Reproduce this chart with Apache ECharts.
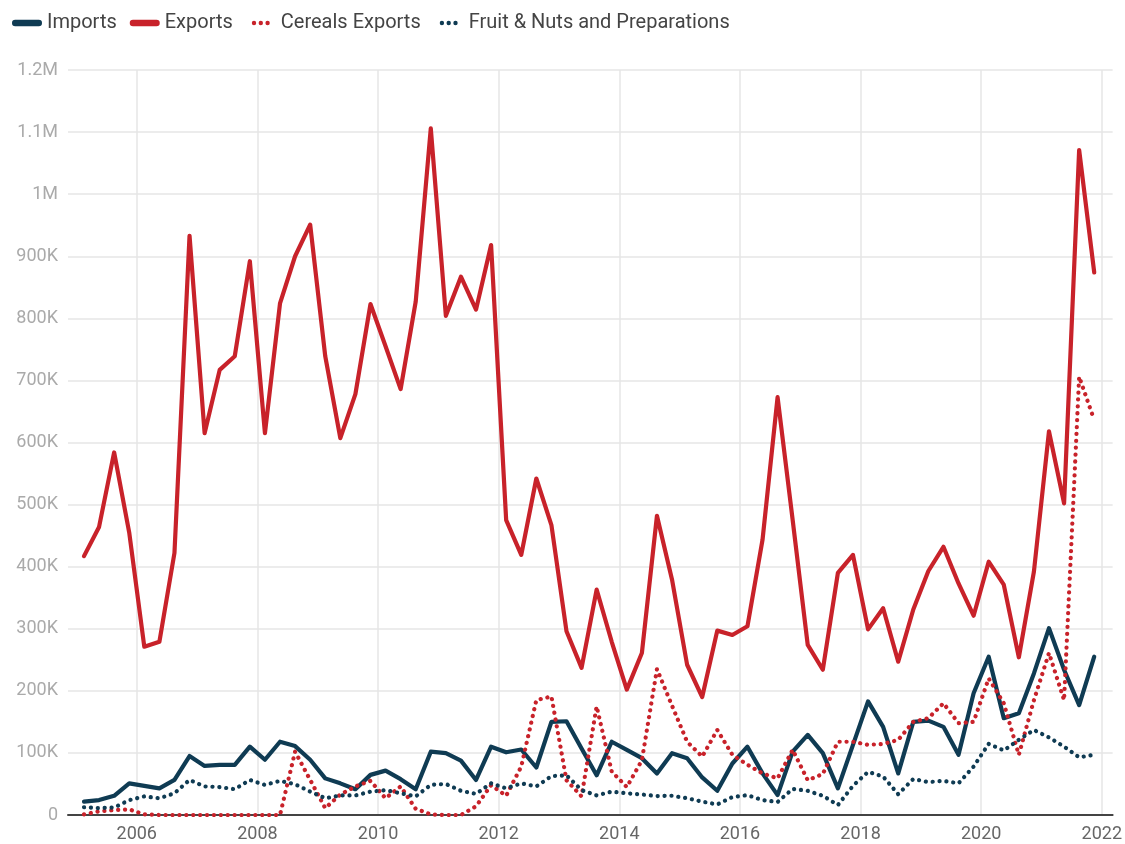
<!DOCTYPE html>
<html><head><meta charset="utf-8">
<script src="https://cdn.jsdelivr.net/npm/echarts@6/dist/echarts.min.js"></script>
<style>html,body{margin:0;padding:0;background:#fff}#c{width:1125px;height:844px}</style>
</head><body><div id="c"></div>
<script>
// Quarterly periods
const quarters = [
 '2005Q1','2005Q2','2005Q3','2005Q4','2006Q1','2006Q2','2006Q3','2006Q4',
 '2007Q1','2007Q2','2007Q3','2007Q4','2008Q1','2008Q2','2008Q3','2008Q4',
 '2009Q1','2009Q2','2009Q3','2009Q4','2010Q1','2010Q2','2010Q3','2010Q4',
 '2011Q1','2011Q2','2011Q3','2011Q4','2012Q1','2012Q2','2012Q3','2012Q4',
 '2013Q1','2013Q2','2013Q3','2013Q4','2014Q1','2014Q2','2014Q3','2014Q4',
 '2015Q1','2015Q2','2015Q3','2015Q4','2016Q1','2016Q2','2016Q3','2016Q4',
 '2017Q1','2017Q2','2017Q3','2017Q4','2018Q1','2018Q2','2018Q3','2018Q4',
 '2019Q1','2019Q2','2019Q3','2019Q4','2020Q1','2020Q2','2020Q3','2020Q4',
 '2021Q1','2021Q2','2021Q3','2021Q4'
];
const imports = [
 21600,24000,31000,51000,47000,43000,56500,95000,
 79000,80700,80700,110000,89000,118000,111000,89000,
 59000,51000,41500,64600,71500,57700,41500,102000,
 99600,87600,56500,110000,101000,105500,76500,150000,
 151000,107000,64000,118000,105000,91500,67000,99600,
 91500,60500,39000,83000,110000,67000,32000,102000,
 129000,99600,43000,113000,183000,142000,67000,150000,
 152000,142000,97000,196000,255000,156000,164000,228000,
 301000,234000,177000,255000
];
const exportsTotal = [
 417000,464000,584000,455000,271000,279000,422000,933000,
 615000,717000,739000,892000,615000,824000,900000,951000,
 739000,607000,678000,823000,755000,686000,827000,1106000,
 804000,867000,814000,918000,475000,419000,542000,467000,
 296000,237000,363000,279000,202000,261000,482000,379000,
 242000,190000,297000,290000,304000,443000,673000,475000,
 274000,234000,390000,419000,299000,333000,247000,331000,
 393000,432000,373000,321000,408000,371000,254000,392000,
 618000,502000,1071000,874000
];
const cerealsExports = [
 1000,6000,8000,9000,1000,0,0,0,
 0,0,0,0,0,0,102000,56500,
 11000,33000,46000,55000,27000,46000,10000,1000,
 0,0,14000,48000,31000,78000,185000,191000,
 56000,30000,175000,70000,45000,88000,235000,176000,
 118000,94000,137000,97000,81000,67000,59000,105000,
 56000,66000,118000,118000,113000,114500,121000,150000,
 156000,180000,148000,150000,220000,180000,97000,185000,
 261000,185000,706000,636000
];
const fruitNuts = [
 12500,11000,12000,24000,30000,27000,35000,56500,
 46000,45000,41500,56500,48500,55000,49600,37700,
 27000,31500,31500,37700,40000,35000,30000,48500,
 50000,39000,34000,51000,43000,51000,46000,62500,
 64000,40000,31500,37700,35000,33000,30500,31000,
 27000,21500,17000,29000,32000,24000,21000,42000,
 39000,31000,16000,47000,69500,62000,33500,58000,
 53000,55000,51000,78000,114500,104000,121000,137000,
 125000,110000,93000,97000
];
const seriesNames = ['Imports','Exports','Cereals Exports','Fruit & Nuts and Preparations'];
const xTickYears = [2006,2008,2010,2012,2014,2016,2018,2020,2022];

const NAVY = '#0f3b53', RED = '#c8222a';
function qx(q){ const y = +q.slice(0,4), n = +q.slice(5); return y + (n-1)*0.25 + 0.125; }
const pair = arr => arr.map((v,i) => [qx(quarters[i]), v]);

const solid = c => ({color:c, width:4.2, type:'solid', join:'round', cap:'round'});
const dotted = c => ({color:c, width:4.2, type:[0.1,6.8], cap:'round', join:'round'});

// legend icons: rounded bar and three dots (with invisible padding points so widths match)
const barIcon = 'path://M3.25,0 L26.75,0 A3.25,3.25 0 0 1 26.75,6.5 L3.25,6.5 A3.25,3.25 0 0 1 3.25,0 Z';
const dotsIcon = 'path://M0,3 L0.01,3 Z M6,3 A2.2,2.2 0 1 0 10.4,3 A2.2,2.2 0 1 0 6,3 Z M12.8,3 A2.2,2.2 0 1 0 17.2,3 A2.2,2.2 0 1 0 12.8,3 Z M19.6,3 A2.2,2.2 0 1 0 24,3 A2.2,2.2 0 1 0 19.6,3 Z M29.99,3 L30,3 Z';

const chart = echarts.init(document.getElementById('c'), null, {renderer:'canvas'});
chart.setOption({
  animation:false,
  backgroundColor:'#fff',
  textStyle:{fontFamily:'Roboto'},
  legend:{
    left:12, top:13, padding:0, itemWidth:30, itemHeight:22, itemGap:13,
    textStyle:{fontFamily:'Roboto', fontSize:20, color:'#444'},
    data:[
      {name:seriesNames[0], icon:barIcon, itemStyle:{color:NAVY, borderWidth:0}},
      {name:seriesNames[1], icon:barIcon, itemStyle:{color:RED, borderWidth:0}},
      {name:seriesNames[2], icon:dotsIcon, itemStyle:{color:RED, borderWidth:0}},
      {name:seriesNames[3], icon:dotsIcon, itemStyle:{color:NAVY, borderWidth:0}}
    ]
  },
  grid:{left:68, right:12, top:70, bottom:29, containLabel:false},
  xAxis:{
    type:'value', min:2004.86, max:2022.18,
    axisLine:{show:true, onZero:true, lineStyle:{color:'#444', width:2}},
    axisTick:{show:false, customValues:xTickYears},
    axisLabel:{customValues:xTickYears, formatter:v => String(v), color:'#666', fontSize:18, fontFamily:'Roboto', margin:10},
    splitLine:{show:true, lineStyle:{color:'#e6e6e6', width:1.5}}
  },
  yAxis:{
    type:'value', min:0, max:1200000, interval:100000,
    axisLine:{show:false}, axisTick:{show:false},
    axisLabel:{color:'#aaa', fontSize:18, fontFamily:'Roboto', margin:10,
      formatter:v => v===0 ? '0' : (v>=1e6 ? (v/1e6)+'M' : (v/1e3)+'K')},
    splitLine:{lineStyle:{color:'#e6e6e6', width:1.5}}
  },
  series:[
    {name:seriesNames[0], type:'line', symbol:'none', data:pair(imports), lineStyle:solid(NAVY), itemStyle:{color:NAVY}},
    {name:seriesNames[1], type:'line', symbol:'none', data:pair(exportsTotal), lineStyle:solid(RED), itemStyle:{color:RED}},
    {name:seriesNames[2], type:'line', symbol:'none', data:pair(cerealsExports), lineStyle:dotted(RED), itemStyle:{color:RED}},
    {name:seriesNames[3], type:'line', symbol:'none', data:pair(fruitNuts), lineStyle:dotted(NAVY), itemStyle:{color:NAVY}}
  ]
});
</script></body></html>
